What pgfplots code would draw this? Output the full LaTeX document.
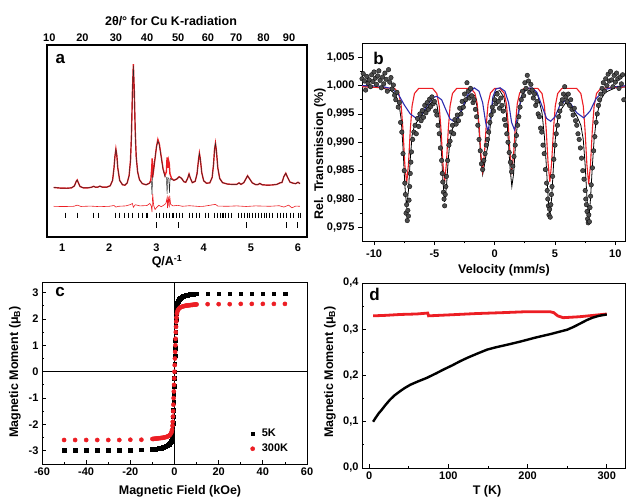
\documentclass[border=0pt]{standalone}
\usepackage{fontspec}
\setmainfont{Liberation Sans}
\usepackage{pgfplots}
\pgfplotsset{compat=1.18}

\definecolor{pred}{RGB}{236,30,36}
\definecolor{pblue}{RGB}{45,45,175}
\newcommand{\tkf}{\fontsize{11}{12}\selectfont\bfseries}
\newcommand{\lbf}{\fontsize{12.5}{14}\selectfont\bfseries}
\newcommand{\pnf}{\fontsize{17}{18}\selectfont\bfseries}

\pgfplotsset{
  panel/.style={
    scale only axis, anchor=south west,
    axis line style={line width=0.9pt},
    every tick/.style={black, line width=0.8pt},
    major tick length=4pt, minor tick length=2.2pt,
    tick label style={font=\tkf},
    /pgf/number format/assume math mode=true,
  },
}

\begin{document}
\begin{tikzpicture}
\useasboundingbox (0,0) rectangle (626pt,499pt);

% ---------------- a: XRD pattern ----------------
\begin{axis}[panel,
  at={(47pt,262pt)}, width=260pt, height=192pt,
  xmin=0.68, xmax=6.19, ymin=0, ymax=100,
  axis line style={line width=1.7pt},
  ytick=\empty, xtick={1,2,3,4,5,6}, major tick length=0pt,
  xticklabel style={yshift=-3pt},
]
% observed
\addplot[pred, line width=1.4pt] coordinates {
 (0.82,25.8) (0.95,25.5) (1.10,25.4) (1.20,25.6) (1.26,26.6) (1.30,29.0) (1.32,29.7)
 (1.34,28.5) (1.38,26.3) (1.45,25.6) (1.55,25.6) (1.62,25.9) (1.67,26.4) (1.71,25.9)
 (1.76,26.0) (1.80,26.5) (1.85,26.0) (1.95,26.0) (2.02,26.7) (2.07,29.5) (2.10,36.0)
 (2.12,42.0) (2.14,45.8) (2.16,42.5) (2.18,36.0) (2.22,29.5) (2.28,27.2) (2.33,27.0)
 (2.38,28.2) (2.42,32.0) (2.45,40.0) (2.47,53.0) (2.49,75.0) (2.51,90.0) (2.53,76.0)
 (2.55,55.0) (2.57,42.0) (2.60,34.0) (2.64,29.8) (2.70,27.8) (2.78,27.2) (2.85,28.0)
 (2.88,29.5) (2.90,36.0) (2.91,41.0) (2.92,31.0) (2.94,35.0) (2.97,41.0) (3.00,47.0)
 (3.03,50.8) (3.06,48.5) (3.10,42.0) (3.14,35.5) (3.18,32.0) (3.21,34.0) (3.225,41.5)
 (3.24,36.0) (3.255,40.0) (3.27,38.5) (3.285,33.0) (3.32,30.5) (3.37,29.5) (3.43,30.2)
 (3.48,31.4) (3.53,30.6) (3.58,28.8) (3.62,28.5) (3.66,30.5) (3.69,32.8) (3.72,30.5)
 (3.76,28.3) (3.82,29.0) (3.86,33.0) (3.89,40.0) (3.91,43.6) (3.93,40.5) (3.96,33.5)
 (4.00,29.3) (4.06,28.0) (4.13,28.2) (4.18,31.0) (4.21,38.0) (4.23,45.5) (4.25,48.8)
 (4.27,45.0) (4.30,36.0) (4.34,30.5) (4.40,28.3) (4.50,27.6) (4.60,27.4) (4.70,27.4)
 (4.75,28.2) (4.79,27.4) (4.85,28.3) (4.90,30.5) (4.93,31.9) (4.97,30.4) (5.03,28.2)
 (5.10,27.3) (5.15,27.3) (5.19,27.9) (5.24,27.2) (5.35,27.0) (5.45,27.1) (5.55,27.4)
 (5.62,28.2) (5.66,28.4) (5.70,31.5) (5.74,33.2) (5.78,31.0) (5.83,28.6) (5.90,28.0)
 (5.95,27.8) (6.00,28.5) (6.04,27.8)};
% calculated
\addplot[black!85, line width=0.45pt] coordinates {
 (0.82,25.8) (0.95,25.5) (1.10,25.4) (1.20,25.6) (1.26,26.6) (1.30,29.0) (1.32,29.7)
 (1.34,28.5) (1.38,26.3) (1.45,25.6) (1.55,25.6) (1.62,25.9) (1.67,26.4) (1.71,25.9)
 (1.76,26.0) (1.80,26.5) (1.85,26.0) (1.95,26.0) (2.02,26.7) (2.07,29.5) (2.10,36.0)
 (2.12,42.0) (2.14,45.8) (2.16,42.5) (2.18,36.0) (2.22,29.5) (2.28,27.2) (2.33,27.0)
 (2.38,28.2) (2.42,32.0) (2.45,40.0) (2.47,53.0) (2.49,75.0) (2.51,89.2) (2.53,76.0)
 (2.55,55.0) (2.57,42.0) (2.60,34.0) (2.64,29.8) (2.70,27.8) (2.78,27.2) (2.85,28.0)
 (2.89,29.0) (2.905,22.0) (2.92,32.0) (2.95,37.0) (2.98,43.0) (3.00,47.0) (3.03,50.0)
 (3.06,48.0) (3.10,41.5) (3.14,35.0) (3.18,31.5) (3.21,31.0) (3.225,22.5) (3.24,31.0)
 (3.26,30.5) (3.275,23.0) (3.29,30.5) (3.32,30.0) (3.37,29.5) (3.43,30.2)
 (3.48,31.4) (3.53,30.6) (3.58,28.8) (3.62,28.5) (3.66,30.5) (3.69,32.8) (3.72,30.5)
 (3.76,28.3) (3.82,29.0) (3.86,33.0) (3.89,40.0) (3.91,43.6) (3.93,40.5) (3.96,33.5)
 (4.00,29.3) (4.06,28.0) (4.13,28.2) (4.18,31.0) (4.21,38.0) (4.23,45.5) (4.25,48.8)
 (4.27,45.0) (4.30,36.0) (4.34,30.5) (4.40,28.3) (4.50,27.6) (4.60,27.4) (4.70,27.4)
 (4.75,28.2) (4.79,27.4) (4.85,28.3) (4.90,30.5) (4.93,31.9) (4.97,30.4) (5.03,28.2)
 (5.10,27.3) (5.15,27.3) (5.19,27.9) (5.24,27.2) (5.35,27.0) (5.45,27.1) (5.55,27.4)
 (5.62,28.2) (5.66,28.4) (5.70,31.5) (5.74,33.2) (5.78,31.0) (5.83,28.6) (5.90,28.0)
 (5.95,27.8) (6.00,28.5) (6.04,27.8)};
% difference
\addplot[pred, line width=0.6pt] coordinates {
 (0.82,16.0) (0.95,15.9) (1.10,15.9) (1.25,16.0) (1.32,16.6) (1.40,15.9) (1.60,16.1)
 (1.80,15.8) (2.00,16.0) (2.10,16.4) (2.14,15.6) (2.20,16.0) (2.35,16.2) (2.45,16.9)
 (2.49,17.5) (2.51,15.5) (2.55,16.8) (2.65,16.2) (2.80,16.4) (2.86,17.5) (2.89,16.0)
 (2.905,13.0) (2.92,22.5) (2.94,16.5) (2.97,14.3) (3.00,15.3) (3.05,16.5) (3.10,15.8)
 (3.15,16.5) (3.20,17.5) (3.225,20.5) (3.235,15.0) (3.25,21.0) (3.27,15.5) (3.28,21.5)
 (3.30,17.0) (3.35,16.2) (3.45,16.5) (3.55,16.0) (3.70,16.3) (3.90,15.9) (4.00,16.0)
 (4.25,17.0) (4.30,16.1) (4.50,16.0) (4.70,16.2) (4.90,15.9) (5.10,16.2) (5.40,16.0)
 (5.60,16.3) (5.70,15.6) (5.80,16.6) (5.87,15.2) (5.95,16.1) (6.04,16.0)};
% reflection markers
\addplot[only marks, mark=|, mark size=2.8pt, mark options={line width=1.1pt}] coordinates {
 (1.07,11.2) (1.32,11.2) (1.67,11.2) (1.78,11.2) (2.13,11.2) (2.22,11.2) (2.32,11.2)
 (2.41,11.2) (2.50,11.2) (2.61,11.2) (2.71,11.2) (2.80,11.2) (3.00,11.2) (3.07,11.2)
 (3.14,11.2) (3.21,11.2) (3.28,11.2) (3.35,11.2) (3.42,11.2) (3.49,11.2) (3.56,11.2)
 (3.70,11.2) (3.77,11.2) (3.84,11.2) (3.91,11.2) (4.04,11.2) (4.11,11.2) (4.23,11.2)
 (4.29,11.2) (4.35,11.2) (4.41,11.2) (4.47,11.2) (4.53,11.2) (4.59,11.2) (4.74,11.2)
 (4.80,11.2) (4.86,11.2) (4.92,11.2) (4.98,11.2) (5.04,11.2) (5.09,11.2) (5.16,11.2)
 (5.22,11.2) (5.28,11.2) (5.34,11.2) (5.40,11.2) (5.46,11.2) (5.57,11.2) (5.63,11.2)
 (5.69,11.2) (5.75,11.2) (5.84,11.2) (5.91,11.2) (6.01,11.2) (6.06,11.2)};
\addplot[only marks, mark=|, mark size=3pt, mark options={line width=1.1pt}] coordinates {
 (3.01,6.2) (3.47,6.2) (4.90,6.2) (5.75,6.2) (5.99,6.2)};
\node[font=\pnf, anchor=base west] at (rel axis cs:0.02,0.905) {a};
\end{axis}
% top 2theta scale of a
\begin{axis}[panel,
  at={(47pt,262pt)}, width=260pt, height=192pt,
  xmin=0.68, xmax=6.19, ymin=0, ymax=100,
  axis x line*=top, axis y line=none, axis line style={draw=none},
  xtick={0.73,1.43,2.14,2.80,3.46,4.09,4.69,5.27,5.81},
  xticklabels={10,20,30,40,50,60,70,80,90}, major tick length=0pt,
]
\end{axis}

% ---------------- b: Moessbauer ----------------
\begin{axis}[panel,
  at={(362pt,258pt)}, width=263pt, height=198pt,
  xmin=-11, xmax=10.8, ymin=0.9726, ymax=1.0075,
  xtick={-10,-5,0,5,10}, minor x tick num=1,
  ytick={0.975,0.980,0.985,0.990,0.995,1.000,1.005}, minor y tick num=1,
  tick align=outside, tick pos=left, scaled y ticks=false,
  xticklabel style={yshift=-1.5pt},
  y tick label style={/pgf/number format/.cd, fixed, fixed zerofill, precision=3, use comma, /tikz/.cd},
]
\addplot[only marks, mark=*, mark size=2.3pt, mark options={fill=black!70, draw=black, line width=0.3pt}] coordinates {
 (-11.0,1.0012) (-10.9,1.0021) (-10.8,1.0008) (-10.7,0.9992) (-10.6,1.0016) (-10.5,1.0004)
 (-10.4,1.0010) (-10.3,0.9998) (-10.2,1.0019) (-10.1,1.0007) (-10.0,1.0024) (-9.9,1.0013)
 (-9.8,1.0002) (-9.7,1.0017) (-9.6,1.0026) (-9.5,1.0009) (-9.4,0.9996) (-9.3,1.0015)
 (-9.2,1.0003) (-9.1,1.0022) (-9.0,1.0011) (-8.9,0.9990) (-8.8,1.0028) (-8.7,1.0006)
 (-8.6,1.0014) (-8.5,0.9994) (-8.4,1.0001) (-8.3,0.9983) (-8.2,0.9975) (-8.1,0.9988)
 (-8.0,0.9962) (-7.9,0.9970) (-7.8,0.9935) (-7.7,0.9918) (-7.6,0.9880) (-7.5,0.9850)
 (-7.45,0.9828) (-7.4,0.9808) (-7.35,0.9775) (-7.3,0.9790) (-7.25,0.9762) (-7.2,0.9780)
 (-7.15,0.9770) (-7.1,0.9798) (-7.05,0.9822) (-7.0,0.9845) (-6.95,0.9865) (-6.9,0.9883)
 (-6.8,0.9905) (-6.7,0.9918) (-6.6,0.9930) (-6.5,0.9915) (-6.4,0.9942) (-6.3,0.9928)
 (-6.2,0.9950) (-6.1,0.9938) (-6.0,0.9956) (-5.9,0.9944) (-5.8,0.9965) (-5.7,0.9952)
 (-5.6,0.9970) (-5.5,0.9958) (-5.4,0.9976) (-5.3,0.9963) (-5.2,0.9980) (-5.1,0.9968)
 (-5.0,0.9972) (-4.9,0.9955) (-4.8,0.9948) (-4.7,0.9930) (-4.6,0.9915) (-4.5,0.9890)
 (-4.4,0.9868) (-4.35,0.9845) (-4.3,0.9830) (-4.25,0.9812) (-4.2,0.9800) (-4.15,0.9788)
 (-4.1,0.9808) (-4.05,0.9822) (-4.0,0.9840) (-3.9,0.9868) (-3.8,0.9895) (-3.7,0.9902)
 (-3.6,0.9918) (-3.5,0.9930) (-3.4,0.9915) (-3.3,0.9940) (-3.2,0.9932) (-3.1,0.9948)
 (-3.0,0.9938) (-2.9,0.9960) (-2.8,0.9950) (-2.7,0.9972) (-2.6,0.9962) (-2.5,0.9985)
 (-2.4,0.9975) (-2.3,1.0005) (-2.2,0.9990) (-2.1,0.9978) (-2.0,0.9995) (-1.9,0.9982)
 (-1.8,0.9970) (-1.7,0.9975) (-1.6,0.9958) (-1.5,0.9945) (-1.4,0.9930) (-1.3,0.9905)
 (-1.2,0.9885) (-1.1,0.9862) (-1.0,0.9852) (-0.9,0.9868) (-0.8,0.9880) (-0.7,0.9895)
 (-0.6,0.9905) (-0.5,0.9918) (-0.4,0.9935) (-0.3,0.9948) (-0.2,0.9962) (-0.1,0.9955)
 (0.0,0.9975) (0.1,0.9968) (0.2,0.9985) (0.3,0.9972) (0.4,0.9960) (0.5,0.9978)
 (0.6,0.9965) (0.7,0.9955) (0.8,0.9940) (0.9,0.9930) (1.0,0.9915) (1.1,0.9900)
 (1.2,0.9882) (1.3,0.9865) (1.4,0.9848) (1.5,0.9858) (1.6,0.9875) (1.7,0.9895)
 (1.8,0.9912) (1.9,0.9930) (2.0,0.9945) (2.1,0.9962) (2.2,0.9975) (2.3,0.9990)
 (2.4,0.9982) (2.5,1.0005) (2.6,0.9995) (2.7,1.0018) (2.8,1.0008) (2.9,0.9988)
 (3.0,1.0002) (3.1,0.9992) (3.2,0.9978) (3.3,0.9985) (3.4,0.9965) (3.5,0.9972)
 (3.6,0.9950) (3.7,0.9945) (3.8,0.9925) (3.9,0.9918) (4.0,0.9895) (4.1,0.9880)
 (4.2,0.9852) (4.3,0.9828) (4.35,0.9815) (4.4,0.9800) (4.45,0.9788) (4.5,0.9772)
 (4.55,0.9782) (4.6,0.9768) (4.65,0.9790) (4.7,0.9808) (4.75,0.9822) (4.8,0.9840)
 (4.9,0.9870) (5.0,0.9895) (5.1,0.9915) (5.2,0.9930) (5.3,0.9945) (5.4,0.9955)
 (5.5,0.9968) (5.6,0.9975) (5.7,0.9985) (5.8,0.9998) (5.9,0.9980) (6.0,0.9972)
 (6.1,0.9985) (6.2,0.9965) (6.3,0.9975) (6.4,0.9958) (6.5,0.9948) (6.6,0.9960)
 (6.7,0.9938) (6.8,0.9930) (6.9,0.9915) (7.0,0.9905) (7.1,0.9890) (7.2,0.9872)
 (7.3,0.9850) (7.4,0.9835) (7.5,0.9815) (7.55,0.9800) (7.6,0.9790) (7.65,0.9778)
 (7.7,0.9765) (7.75,0.9758) (7.8,0.9772) (7.85,0.9760) (7.9,0.9785) (7.95,0.9805)
 (8.0,0.9825) (8.1,0.9855) (8.2,0.9885) (8.3,0.9910) (8.4,0.9935) (8.5,0.9950)
 (8.6,0.9965) (8.7,0.9975) (8.8,0.9985) (8.9,0.9995) (9.0,1.0005) (9.1,0.9990)
 (9.2,1.0012) (9.3,1.0000) (9.4,1.0020) (9.5,1.0008) (9.6,1.0025) (9.7,1.0010)
 (9.8,0.9998) (9.9,1.0018) (10.0,1.0006) (10.1,1.0022) (10.2,1.0012) (10.3,0.9995)
 (10.4,1.0015) (10.5,1.0003) (10.6,1.0019) (10.7,0.9975)};
% total fit
\addplot[black, line width=0.8pt] coordinates {
 (-11,0.9998) (-9.5,0.9997) (-8.6,0.9991) (-8.3,0.9986) (-7.95,0.9970) (-7.75,0.9940)
 (-7.6,0.9890) (-7.45,0.9825) (-7.3,0.9785) (-7.15,0.9815) (-7.0,0.9870) (-6.85,0.9912)
 (-6.65,0.9930) (-6.3,0.9940) (-5.6,0.9961) (-5.15,0.9973) (-4.8,0.9967) (-4.6,0.9942)
 (-4.45,0.9898) (-4.3,0.9834) (-4.15,0.9795) (-4.0,0.9822) (-3.85,0.9870) (-3.7,0.9905)
 (-3.5,0.9924) (-3.15,0.9937) (-2.6,0.9961) (-2.2,0.9981) (-2.0,0.9985) (-1.65,0.9982)
 (-1.45,0.9961) (-1.3,0.9921) (-1.15,0.9870) (-1.0,0.9843) (-0.85,0.9860) (-0.7,0.9880)
 (-0.55,0.9895) (-0.35,0.9932) (-0.15,0.9973) (0.1,0.9989) (0.42,0.9991) (0.77,0.9979)
 (0.97,0.9950) (1.12,0.9905) (1.27,0.9855) (1.42,0.9822) (1.57,0.9845) (1.72,0.9895)
 (1.87,0.9930) (2.07,0.9965) (2.42,0.9988) (2.6,0.9992) (3.1,0.9992) (3.57,0.9983)
 (3.92,0.9952) (4.12,0.9910) (4.27,0.9862) (4.42,0.9805) (4.57,0.9768) (4.72,0.9802)
 (4.87,0.9858) (5.02,0.9905) (5.22,0.9940) (5.57,0.9960) (5.87,0.9969) (6.3,0.9963)
 (6.79,0.9947) (7.14,0.9930) (7.34,0.9905) (7.49,0.9862) (7.64,0.9805) (7.79,0.9762)
 (7.94,0.9800) (8.09,0.9857) (8.24,0.9905) (8.44,0.9945) (8.79,0.9975) (9.16,0.9988)
 (10,0.9996) (11,0.9998)};
% sharp sextet
\addplot[pred, line width=1.1pt] coordinates {
 (-11,0.9998) (-8.3,0.9995) (-7.95,0.9986) (-7.75,0.9964) (-7.6,0.9921) (-7.45,0.9861)
 (-7.3,0.9827) (-7.15,0.9861) (-7.0,0.9921) (-6.85,0.9964) (-6.65,0.9986) (-6.3,0.9995)
 (-5.15,0.9995) (-4.8,0.9986) (-4.6,0.9964) (-4.45,0.9922) (-4.3,0.9864) (-4.15,0.9830)
 (-4.0,0.9864) (-3.85,0.9922) (-3.7,0.9964) (-3.5,0.9986) (-3.15,0.9995) (-2.0,0.9995)
 (-1.65,0.9987) (-1.45,0.9968) (-1.3,0.9931) (-1.15,0.9880) (-1.0,0.9850) (-0.85,0.9880)
 (-0.7,0.9931) (-0.55,0.9968) (-0.35,0.9987) (0.0,0.9995) (0.42,0.9995) (0.77,0.9987)
 (0.97,0.9968) (1.12,0.9931) (1.27,0.9880) (1.42,0.9850) (1.57,0.9880) (1.72,0.9931)
 (1.87,0.9968) (2.07,0.9987) (2.42,0.9995) (3.57,0.9995) (3.92,0.9986) (4.12,0.9964)
 (4.27,0.9922) (4.42,0.9864) (4.57,0.9830) (4.72,0.9864) (4.87,0.9922) (5.02,0.9964)
 (5.22,0.9986) (5.57,0.9995) (6.79,0.9995) (7.14,0.9986) (7.34,0.9964) (7.49,0.9921)
 (7.64,0.9861) (7.79,0.9826) (7.94,0.9861) (8.09,0.9921) (8.24,0.9964) (8.44,0.9986)
 (8.79,0.9995) (11,0.9998)};
% broad sextet
\addplot[pblue, line width=1.1pt] coordinates {
 (-11,1.0000) (-9.5,0.9999) (-8.6,0.9995) (-8.0,0.9985) (-7.5,0.9966) (-7.0,0.9950)
 (-6.55,0.9943) (-6.1,0.9948) (-5.6,0.9965) (-5.1,0.9979) (-4.8,0.9981) (-4.4,0.9975)
 (-4.0,0.9955) (-3.7,0.9941) (-3.4,0.9937) (-3.0,0.9945) (-2.6,0.9965) (-2.2,0.9985)
 (-1.7,0.9996) (-1.3,0.9990) (-1.0,0.9970) (-0.75,0.9935) (-0.55,0.9919) (-0.35,0.9945)
 (-0.15,0.9980) (0.1,0.9994) (0.45,0.9996) (0.85,0.9990) (1.15,0.9970) (1.4,0.9935)
 (1.64,0.9922) (1.9,0.9945) (2.2,0.9980) (2.6,0.9995) (3.1,0.9996) (3.5,0.9988)
 (3.9,0.9965) (4.3,0.9942) (4.64,0.9937) (5.0,0.9945) (5.4,0.9965) (5.87,0.9974)
 (6.3,0.9968) (6.8,0.9952) (7.38,0.9943) (7.9,0.9955) (8.4,0.9977) (9.16,0.9993)
 (10,0.9998) (11,1.0000)};
\node[font=\pnf, anchor=base west] at (rel axis cs:0.03,0.892) {b};
\end{axis}

% ---------------- c: M(H) loops ----------------
\begin{axis}[panel,
  at={(42pt,35pt)}, width=265pt, height=182pt,
  xmin=-60, xmax=60, ymin=-3.5, ymax=3.4,
  xtick={-60,-40,-20,0,20,40,60}, minor x tick num=1,
  ytick={-3,-2,-1,0,1,2,3}, minor y tick num=1,
  tick pos=left,
  legend style={draw=none, fill=none, font=\tkf, at={(0.775,0.215)}, anchor=north west,
    row sep=2pt, legend cell align=left,
    /tikz/every odd column/.append style={column sep=5pt}},
  legend image code/.code={\draw[#1] plot coordinates {(0cm,0cm)};},
]
\addplot[black, line width=0.8pt, forget plot] coordinates {(0,-3.5) (0,3.4)};
\addplot[black, line width=0.8pt, forget plot] coordinates {(-60,0) (60,0)};
\addplot[only marks, mark=square*, mark size=1.8pt, black] coordinates {
 (-50,-2.97) (-45,-2.97) (-40,-2.97) (-35,-2.97) (-30,-2.97) (-25,-2.97) (-20,-2.97) (-15,-2.96)
 (-10,-2.94) (-9.5,-2.94) (-9,-2.93) (-8.5,-2.93) (-8,-2.92) (-7.5,-2.92) (-7,-2.91) (-6.5,-2.90)
 (-6,-2.89) (-5.5,-2.88) (-5,-2.87) (-4.5,-2.85) (-4,-2.83) (-3.5,-2.81) (-3,-2.78) (-2.5,-2.74)
 (-2,-2.69) (-1.6,-2.63) (-1.3,-2.55) (-1.1,-2.45) (-0.9,-2.30) (-0.8,-2.15) (-0.7,-1.95)
 (-0.6,-1.70) (-0.5,-1.45) (-0.4,-1.15) (-0.3,-0.85) (-0.2,-0.55) (-0.1,-0.25) (0,0)
 (0.1,0.30) (0.2,0.60) (0.3,0.90) (0.4,1.20) (0.5,1.50) (0.6,1.75) (0.7,2.00) (0.8,2.20)
 (0.9,2.35) (1.1,2.50) (1.3,2.60) (1.6,2.68) (2,2.74) (2.5,2.78) (3,2.81) (3.5,2.84) (4,2.86)
 (4.5,2.88) (5,2.89) (5.5,2.90) (6,2.91) (6.5,2.92) (7,2.93) (7.5,2.93) (8,2.94) (8.5,2.94)
 (9,2.95) (9.5,2.95) (10,2.95)
 (15,2.96) (20,2.96) (25,2.96) (30,2.96) (35,2.96) (40,2.96) (45,2.96) (50,2.96)};
\addlegendentry{5K}
\addplot[only marks, mark=*, mark size=2.1pt, pred] coordinates {
 (-50,-2.59) (-45,-2.59) (-40,-2.59) (-35,-2.59) (-30,-2.59) (-25,-2.59) (-20,-2.58) (-15,-2.58)
 (-10,-2.55) (-9.5,-2.55) (-9,-2.54) (-8.5,-2.54) (-8,-2.53) (-7.5,-2.53) (-7,-2.52) (-6.5,-2.52)
 (-6,-2.51) (-5.5,-2.51) (-5,-2.50) (-4.5,-2.49) (-4,-2.48) (-3.5,-2.47) (-3,-2.45) (-2.5,-2.43)
 (-2,-2.39) (-1.6,-2.34) (-1.3,-2.28) (-1.1,-2.20) (-0.9,-2.05) (-0.8,-1.90) (-0.7,-1.70)
 (-0.6,-1.50) (-0.5,-1.25) (-0.4,-1.00) (-0.3,-0.75) (-0.2,-0.50) (-0.1,-0.25) (0,0)
 (0.1,0.25) (0.2,0.50) (0.3,0.75) (0.4,1.00) (0.5,1.25) (0.6,1.50) (0.7,1.70) (0.8,1.90)
 (0.9,2.05) (1.1,2.20) (1.3,2.28) (1.6,2.34) (2,2.39) (2.5,2.43) (3,2.45) (3.5,2.47) (4,2.48)
 (4.5,2.49) (5,2.50) (5.5,2.51) (6,2.51) (6.5,2.52) (7,2.52) (7.5,2.53) (8,2.53) (8.5,2.54)
 (9,2.54) (9.5,2.55) (10,2.55)
 (15,2.56) (20,2.56) (25,2.56) (30,2.57) (35,2.57) (40,2.57) (45,2.57) (50,2.57)};
\addlegendentry{300K}
\node[font=\pnf, anchor=base west] at (rel axis cs:0.037,0.92) {c};
\end{axis}

% ---------------- d: M(T) ----------------
\begin{axis}[panel,
  at={(362pt,31pt)}, width=263pt, height=185pt,
  xmin=-9, xmax=323, ymin=0, ymax=0.4,
  xtick={0,100,200,300}, minor x tick num=1,
  ytick={0,0.1,0.2,0.3,0.4}, minor y tick num=1,
  tick pos=left,
  y tick label style={/pgf/number format/.cd, fixed, fixed zerofill, precision=1, use comma, /tikz/.cd},
]
\addplot[pred, line width=2.8pt] coordinates {
 (5,0.329) (20,0.330) (40,0.332) (60,0.333) (74,0.335) (75,0.329) (100,0.331) (136,0.334)
 (170,0.336) (199,0.338) (228,0.338) (233,0.336) (238,0.329) (245,0.325) (255,0.326)
 (265,0.327) (283,0.330) (300,0.333)};
\addplot[black, line width=2.4pt] coordinates {
 (5,0.100) (8,0.108) (12,0.118) (16,0.126) (20,0.135) (26,0.147) (32,0.157) (39,0.166)
 (45,0.173) (52,0.180) (60,0.186) (73,0.195) (85,0.205) (94,0.213) (105,0.222) (115,0.231)
 (125,0.239) (136,0.247) (149,0.256) (160,0.261) (178,0.268) (190,0.273) (199,0.277)
 (210,0.282) (220,0.286) (230,0.290) (241,0.295) (250,0.299) (258,0.305) (266,0.312)
 (275,0.320) (282,0.325) (290,0.329) (300,0.332)};
\node[font=\pnf, anchor=base west] at (rel axis cs:0.015,0.904) {d};
\end{axis}

% ---------------- titles ----------------
\node[font=\lbf] at (171pt,477.5pt) {2θ/° for Cu K-radiation};
\node[font=\lbf] at (167pt,237pt) {Q/A\textsuperscript{-1}};
\node[font=\lbf, rotate=90] at (320pt,345pt) {Rel. Transmission (\%)};
\node[font=\lbf] at (504pt,229pt) {Velocity (mm/s)};
\node[font=\lbf, rotate=90] at (15pt,127pt) {Magnetic Moment (μ\textsubscript{B})};
\node[font=\lbf] at (180pt,7.5pt) {Magnetic Field (kOe)};
\node[font=\lbf, rotate=90] at (330pt,127pt) {Magnetic Moment (μ\textsubscript{B})};
\node[font=\lbf] at (487pt,7.5pt) {T (K)};
\end{tikzpicture}
\end{document}
